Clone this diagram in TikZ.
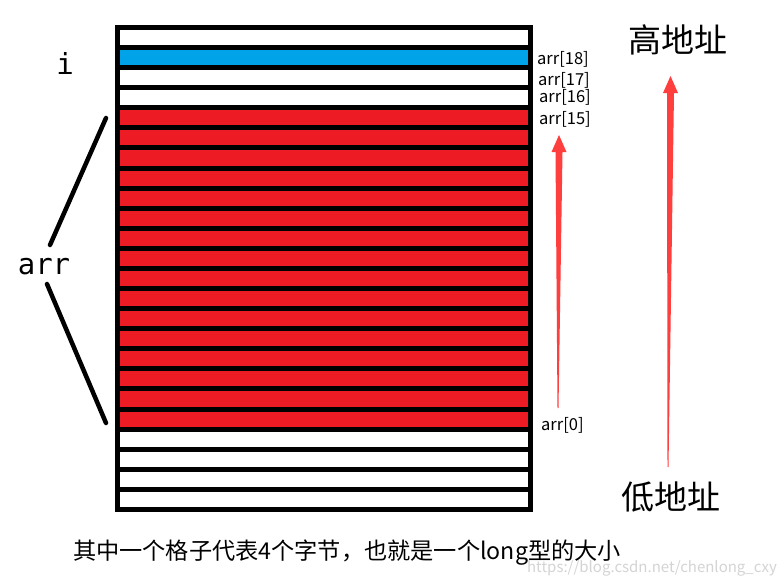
\documentclass[tikz,border=0pt]{standalone}
\usepackage{fontspec}
\setmainfont{Noto Sans CJK SC}
\newfontfamily\monof{DejaVu Sans Mono}
\definecolor{cellred}{RGB}{237,28,36}
\definecolor{cellblue}{RGB}{0,162,232}
\definecolor{arrowred}{RGB}{255,62,62}
\definecolor{wmgray}{RGB}{212,212,212}
\begin{document}
\begin{tikzpicture}[x=1pt,y=-1pt,
  idx/.style={font=\fontsize{16.5}{16.5}\selectfont, anchor=base west, inner sep=0pt},
  big/.style={font=\fontsize{33}{33}\selectfont, inner sep=0pt},
  mono/.style={font=\monof\fontsize{29}{29}\selectfont, inner sep=0pt},
  brace/.style={line width=4.5pt, line cap=round}]
\useasboundingbox (0,0) rectangle (784,587);
\fill[white] (0,0) rectangle (784,587);
% memory block
\fill[black] (115,25) rectangle (533,512);
\foreach \i in {0,2,3,20,21,22,23}
  \fill[white] (120,{30+\i*20.08}) rectangle (528,{45.08+\i*20.08});
\foreach \i in {1}
  \fill[cellblue] (120,{30+\i*20.08}) rectangle (528,{45.08+\i*20.08});
\foreach \i in {4,...,19}
  \fill[cellred] (120,{30+\i*20.08}) rectangle (528,{45.08+\i*20.08});
% labels
\node[mono] (i) at (65,63) {i};
\node[mono] (arr) at (44,267) {arr};
\coordinate (ua) at (50,245);
\coordinate (ub) at (106,118);
\coordinate (la) at (47,284);
\coordinate (lb) at (106,423);
\draw[brace] (ua) -- (ub);
\draw[brace] (la) -- (lb);
\node[idx] (a18) at (537,64) {arr[18]};
\node[idx] (a17) at (538,85) {arr[17]};
\node[idx] (a16) at (539,102) {arr[16]};
\node[idx] (a15) at (539,124) {arr[15]};
\node[idx] (a0) at (541,430) {arr[0]};
% arrows
\fill[arrowred] (558.5,408) -- (562.5,152) -- (566.5,152) -- (559,135) -- (551.5,152) -- (555.5,152) -- (557.5,408) -- cycle;
\fill[arrowred] (668.5,467) -- (674,93) -- (678,93) -- (670.5,76) -- (663,93) -- (667,93) -- (667.5,467) -- cycle;
\node[big] (high) at (678,40) {高地址};
\node[big] (low) at (671,497) {低地址};
\node[font=\fontsize{23.2}{23.2}\selectfont, inner sep=0pt] (cap) at (347,553) {其中一个格子代表4个字节，也就是一个long型的大小};
\node[font=\fontsize{15}{15}\selectfont, text=wmgray, inner sep=0pt] (wm) at (652,568) {https://blog.csdn.net/chenlong\_cxy};
\end{tikzpicture}
\end{document}
